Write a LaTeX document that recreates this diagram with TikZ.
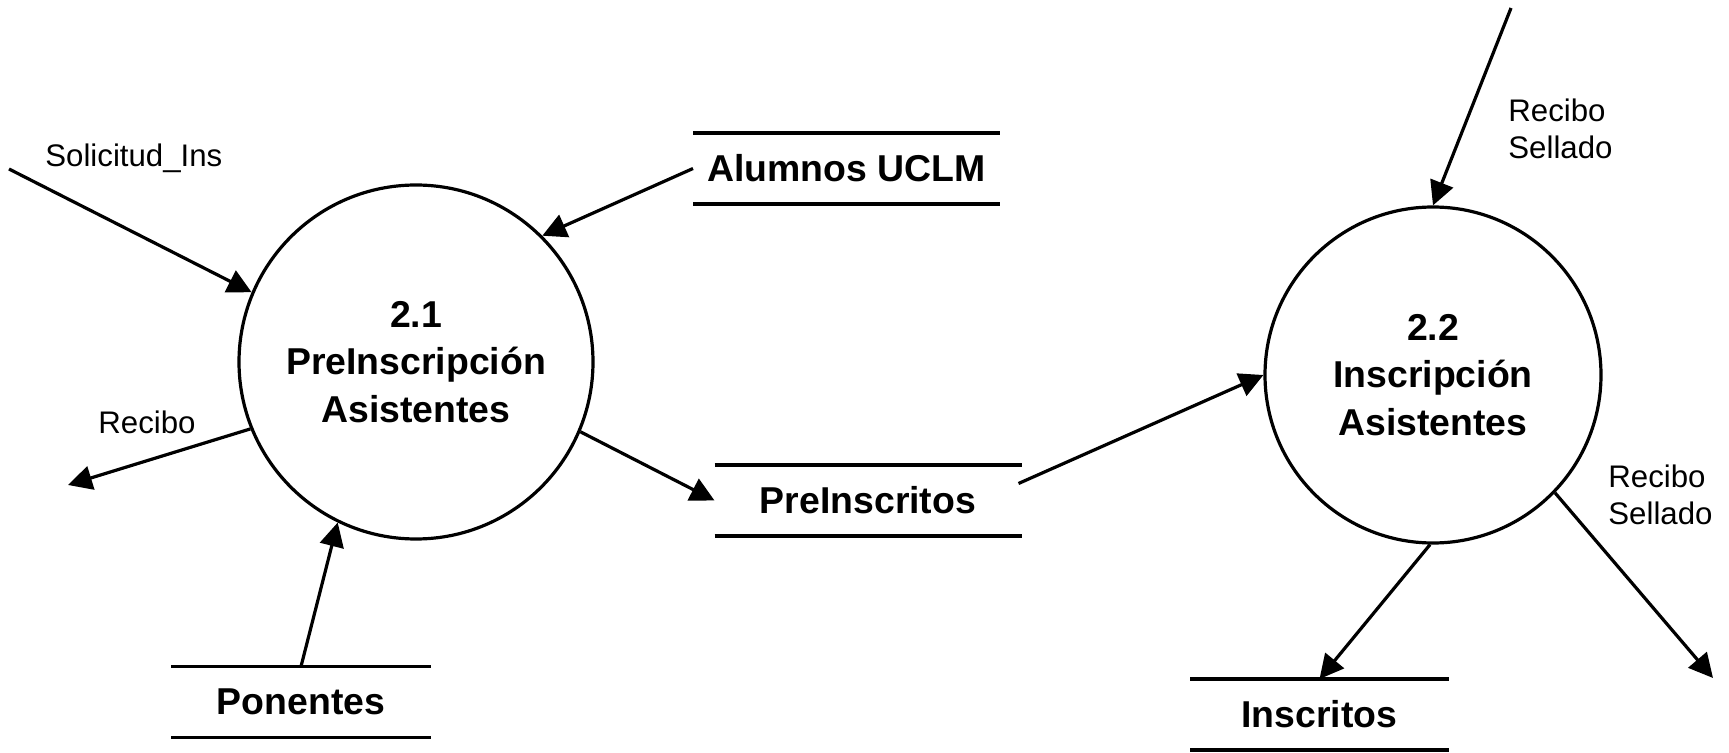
\documentclass[tikz,border=0pt]{standalone}
\usepackage{fontspec}
\setmainfont{Liberation Sans}
\usetikzlibrary{arrows.meta,calc}
\begin{document}
\begin{tikzpicture}[x=0.5pt,y=-0.5pt,
  proc/.style={circle,draw,line width=1.6pt,minimum size=177pt,inner sep=0pt,align=center,font=\bfseries\fontsize{18.7pt}{23.75pt}\selectfont},
  store/.style={minimum width=153.5pt,minimum height=35.5pt,inner sep=0pt,outer sep=0pt,font=\bfseries\fontsize{18.7pt}{22pt}\selectfont},
  flow/.style={line width=1.6pt,-{Triangle[length=12pt,width=12pt]}},
  lbl/.style={font=\fontsize{15.6pt}{18.5pt}\selectfont,inner sep=0pt,align=left,anchor=west},
  rule/.style={line width=1.6pt}]
\useasboundingbox (0,0) rectangle (1729,753);

\node[proc] (p1) at (416,362) {2.1\\PreInscripción\\Asistentes};
\node[proc,minimum size=168pt] (p2) at (1433,375) {2.2\\Inscripción\\Asistentes};

\node[store] (alu) at (846.5,168.5) {Alumnos UCLM};
\node[store] (pre) at (868,500.5) {PreInscritos};
\node[store,minimum width=130pt] (pon) at (301,702) {Ponentes};
\node[store,minimum width=129.5pt] (ins) at (1319.5,714.5) {Inscritos};

\foreach \n in {alu,pre,pon,ins}{
  \draw[rule] (\n.north west) -- (\n.north east);
  \draw[rule] (\n.south west) -- (\n.south east);
}

\coordinate (solS) at (9,169);
\coordinate (recE) at (68,485);
\coordinate (rsS) at (1511,8);
\coordinate (rsE) at (1713,678);

\draw[flow] (solS) -- (p1.157.5);
\draw[flow] (alu.west) -- (p1.45.5);
\draw[flow] (p1.202) -- (recE);
\draw[flow] (pon.north) -- (p1.244);
\draw[flow] (p1.337) -- (pre.west);
\draw[flow] ($(pre.east)+(-3,-17)$) -- (p2.west);
\draw[flow] (rsS) -- (p2.north);
\draw[flow] (p2.269) -- (ins.north);
\draw[flow] (p2.316) -- (rsE);

\node[lbl] (lsol) at (45,158) {Solicitud\_Ins};
\node[lbl] (lrec) at (98,422) {Recibo};
\node[lbl] (lrs1) at (1508,128.5) {Recibo\\Sellado};
\node[lbl] (lrs2) at (1608,494.5) {Recibo\\Sellado};
\end{tikzpicture}
\end{document}
